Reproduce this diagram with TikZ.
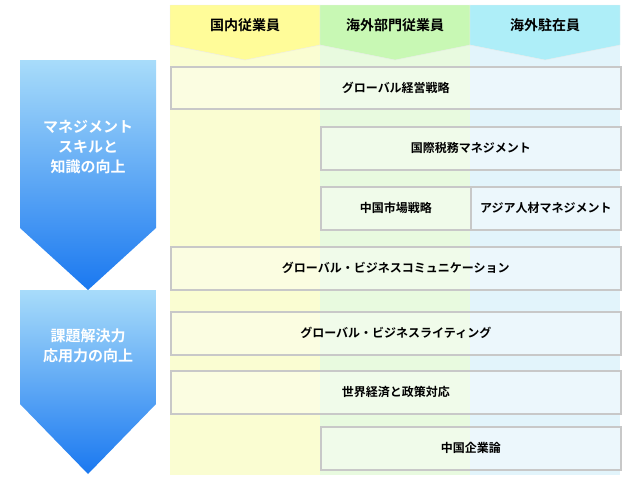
\documentclass[tikz,border=0pt]{standalone}
\usepackage{fontspec}
\newfontfamily\jp{Noto Sans CJK JP}[BoldFont={Noto Sans CJK JP Bold}]
\usetikzlibrary{positioning}
\definecolor{yelhead}{HTML}{FFFC99}
\definecolor{yelback}{HTML}{FAFDD2}
\definecolor{grnhead}{HTML}{C8F8B4}
\definecolor{grnback}{HTML}{E8FADF}
\definecolor{bluhead}{HTML}{AEEEF8}
\definecolor{bluback}{HTML}{E2F4FB}
\definecolor{boxline}{HTML}{C8C8C8}
\definecolor{arrtop}{HTML}{A8DCFA}
\definecolor{arrbot}{HTML}{1A78F0}
\begin{document}
\begin{tikzpicture}[x=1pt,y=-1pt,font=\jp\bfseries,
                    course/.style={draw=boxline, line width=1.6pt, fill=white, fill opacity=0.35, text opacity=1,
                                   font=\jp\bfseries\fontsize{12}{14}\selectfont, anchor=north west, inner sep=0pt},
                    head/.style={font=\jp\bfseries\fontsize{14}{16}\selectfont},
                    goal/.style={text=white, align=center, font=\jp\bfseries\fontsize{15}{20}\selectfont}]
    \useasboundingbox (0,0) rectangle (640,480);
    % columns
    \fill[yelback] (170,5) rectangle (320,475);
    \fill[grnback] (320,5) rectangle (470,475);
    \fill[bluback] (470,5) rectangle (620,475);
    \filldraw[yelhead, draw=white!85!gray] (170,5) -- (320,5) -- (320,45) -- (245,60) -- (170,45) -- cycle;
    \filldraw[grnhead, draw=white!85!gray] (320,5) -- (470,5) -- (470,45) -- (395,60) -- (320,45) -- cycle;
    \filldraw[bluhead, draw=white!85!gray] (470,5) -- (620,5) -- (620,45) -- (545,60) -- (470,45) -- cycle;
    \node (dom)    [head] at (245,25) {国内従業員};
    \node (ovdept) [head] at (395,25) {海外部門従業員};
    \node (ovstay) [head] at (545,25) {海外駐在員};
    % left arrows
    \shade[top color=arrtop, bottom color=arrbot] (20,60) -- (156,60) -- (156,228) -- (88,290) -- (20,228) -- cycle;
    \shade[top color=arrtop, bottom color=arrbot] (20,290) -- (156,290) -- (156,404) -- (88,474) -- (20,404) -- cycle;
    \node (skill) [goal] at (88,147) {マネジメント\\スキルと\\知識の向上};
    \node (solve) [goal] at (88,346) {課題解決力\\応用力の向上};
    % courses
    \node (strat)  [course, minimum width=450pt, minimum height=42pt] at (170,66)  {グローバル経営戦略};
    \node (tax)    [course, minimum width=300pt, minimum height=43pt] at (320,126) {国際税務マネジメント};
    \node (china)  [course, minimum width=150pt, minimum height=43pt] at (320,186) {中国市場戦略};
    \node (asia)   [course, minimum width=150pt, minimum height=43pt] at (470,186) {アジア人材マネジメント};
    \node (comm)   [course, minimum width=450pt, minimum height=43pt] at (170,246) {グローバル・ビジネスコミュニケーション};
    \node (write)  [course, minimum width=450pt, minimum height=43pt] at (170,311) {グローバル・ビジネスライティング};
    \node (econ)   [course, minimum width=450pt, minimum height=43pt] at (170,370) {世界経済と政策対応};
    \node (corp)   [course, minimum width=300pt, minimum height=43pt] at (320,426) {中国企業論};
\end{tikzpicture}
\end{document}
